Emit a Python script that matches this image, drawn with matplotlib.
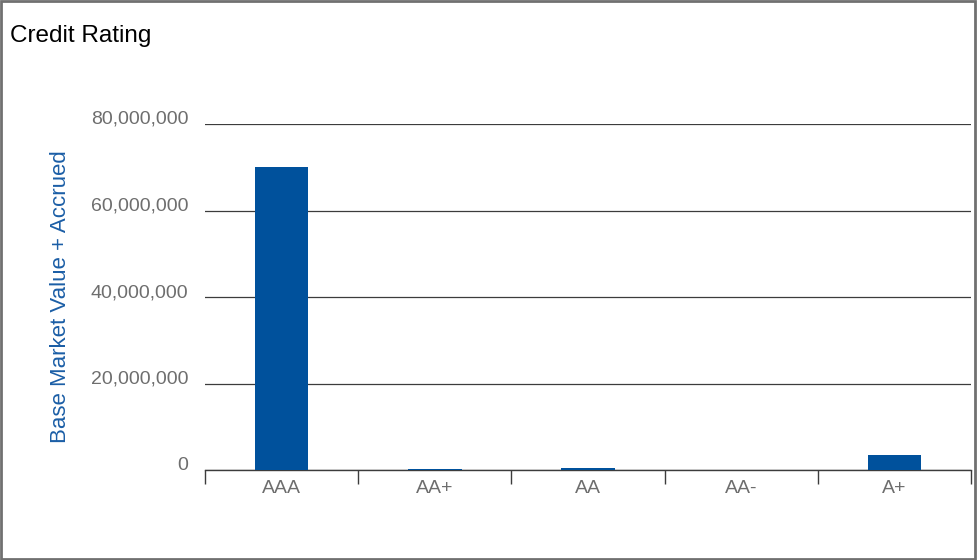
import matplotlib.pyplot as plt
from matplotlib.patches import Rectangle
from matplotlib.ticker import FuncFormatter, FixedLocator
import numpy as np

plt.rcParams['font.family'] = ['Liberation Sans', 'DejaVu Sans']

# data
ratings = ['AAA', 'AA+', 'AA', 'AA-', 'A+']
values = [70000000, 300000, 550000, 0, 3450000]
yticks = [0, 20000000, 40000000, 60000000, 80000000]

bar_color = '#00519c'
label_color = '#1b5ea6'
tick_color = '#6e6e6e'

fig = plt.figure(figsize=(9.77, 5.6), dpi=100)
W, H = 977, 560
ax = fig.add_axes([205 / W, 1 - 470 / H, (971 - 205) / W, (470 - 124) / H])

x = np.arange(len(ratings))
ax.bar(x, values, width=0.35, color=bar_color, zorder=3)

ax.set_xlim(-0.5, len(ratings) - 0.5)
ax.set_ylim(0, 80000000)
ax.set_yticks(yticks)
ax.yaxis.set_major_formatter(FuncFormatter(lambda v, p: f'{int(v):,}'))
ax.yaxis.grid(True, color='#3c3c3c', linewidth=0.9, zorder=0)
ax.tick_params(axis='y', length=0, pad=12, labelsize=14, labelcolor=tick_color)
for lbl in ax.get_yticklabels():
    lbl.set_verticalalignment('baseline')

# x axis: labels centred, tick marks on boundaries
ax.set_xticks(x)
ax.set_xticklabels(ratings)
ax.xaxis.set_minor_locator(FixedLocator(np.arange(-0.5, len(ratings), 1.0)))
ax.tick_params(axis='x', which='major', length=0, pad=7, labelsize=14, labelcolor=tick_color)
ax.tick_params(axis='x', which='minor', length=10, width=1, color='#3c3c3c', direction='out')

for s in ['top', 'right', 'left']:
    ax.spines[s].set_visible(False)
ax.spines['bottom'].set_color('#3c3c3c')
ax.spines['bottom'].set_linewidth(1.0)

ax.set_ylabel('Base Market Value + Accrued', fontsize=16, color=label_color, labelpad=0)
ax.yaxis.set_label_coords(-(205 - 71) / (971 - 205), (470 - 297) / (470 - 124))

fig.text(10 / W, 1 - 36 / H, 'Credit Rating', fontsize=17.5, color='black', va='center', ha='left')

# outer frame
fig.patches.append(Rectangle((0.001, 0.002), 0.997, 0.996, transform=fig.transFigure,
                             fill=False, edgecolor='#707070', linewidth=2))

fig.savefig('out.png', dpi=100)
